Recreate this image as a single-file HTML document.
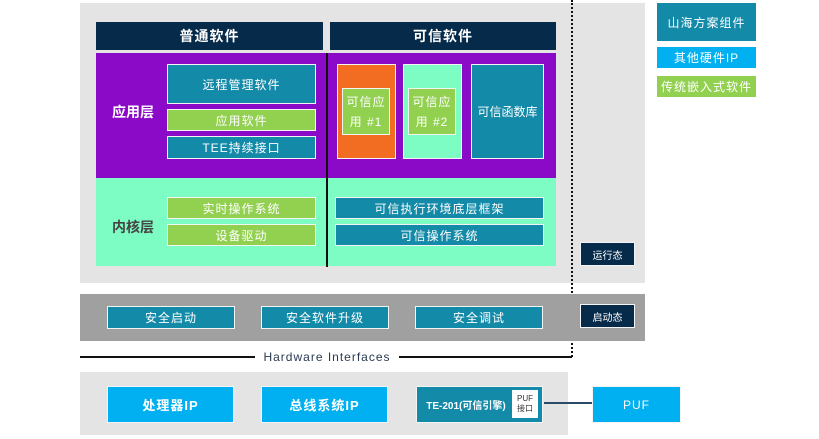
<!DOCTYPE html>
<html><head><meta charset="utf-8"><style>
*{margin:0;padding:0;box-sizing:border-box}
body{width:819px;height:439px;background:#fff;position:relative;overflow:hidden;font-family:"Liberation Sans","Noto Sans CJK SC",sans-serif;color:#fff}
div{position:absolute}
.c{display:flex;align-items:center;justify-content:center;text-align:center}
.b{border:1.5px solid #f4f4f4}
.t{background:#138aa8}
.g{background:#92d050}
.n{background:#062b4a}
.cy{background:#00b0f0}
.f12{font-size:12px;letter-spacing:1px}
</style></head><body>
<div style="left:80px;top:3px;width:565px;height:280px;background:#e4e4e4"></div>
<div class="c n" style="left:96px;top:22px;width:227px;height:28px;font-size:14px;font-weight:bold;letter-spacing:1px">普通软件</div>
<div class="c n" style="left:330px;top:22px;width:226px;height:28px;font-size:14px;font-weight:bold;letter-spacing:1px">可信软件</div>
<div style="left:96px;top:53px;width:460px;height:125px;background:#8a0ac8"></div>
<div style="left:96px;top:178px;width:460px;height:88px;background:#7dfcc4"></div>
<div style="left:326px;top:53px;width:2px;height:214px;background:#111"></div>
<div class="c" style="left:100px;top:100px;width:66px;height:24px;font-size:14px;font-weight:bold">应用层</div>
<div class="c" style="left:100px;top:215px;width:66px;height:24px;font-size:14px;font-weight:bold;color:#444">内核层</div>
<div class="c t b f12" style="left:167px;top:64px;width:149px;height:40px">远程管理软件</div>
<div class="c g b f12" style="left:167px;top:109px;width:149px;height:22px">应用软件</div>
<div class="c t b f12" style="left:167px;top:136px;width:149px;height:23px">TEE持续接口</div>
<div class="c g b f12" style="left:167px;top:197px;width:149px;height:22px">实时操作系统</div>
<div class="c g b f12" style="left:167px;top:224px;width:149px;height:22px">设备驱动</div>
<div class="b" style="left:337px;top:64px;width:59px;height:95px;background:#f26c22"></div>
<div class="c g b f12" style="left:342px;top:88px;width:48px;height:47px;line-height:20px">可信应<br>用 #1</div>
<div class="b" style="left:403px;top:64px;width:59px;height:95px;background:#7dfcc4"></div>
<div class="c g b f12" style="left:408px;top:88px;width:48px;height:47px;line-height:20px">可信应<br>用 #2</div>
<div class="c t b f12" style="left:471px;top:64px;width:73px;height:95px;letter-spacing:0">可信函数库</div>
<div class="c t b f12" style="left:335px;top:197px;width:209px;height:22px">可信执行环境底层框架</div>
<div class="c t b f12" style="left:335px;top:224px;width:209px;height:22px">可信操作系统</div>
<div style="left:571px;top:0;width:0;height:357px;border-left:2px dotted #111"></div>
<div class="c n b" style="left:580px;top:242px;width:55px;height:24px;font-size:10px">运行态</div>
<div style="left:80px;top:294px;width:565px;height:47px;background:#a0a0a0"></div>
<div class="c t b f12" style="left:107px;top:306px;width:128px;height:23px">安全启动</div>
<div class="c t b f12" style="left:261px;top:306px;width:128px;height:23px">安全软件升级</div>
<div class="c t b f12" style="left:415px;top:306px;width:128px;height:23px">安全调试</div>
<div class="c n b" style="left:580px;top:304px;width:55px;height:24px;font-size:10px">启动态</div>
<div style="left:80px;top:356px;width:492px;height:2px;background:#111"></div>
<div class="c" style="left:255px;top:349px;width:144px;height:16px;background:#fff;color:#2a3a50;font-size:12px;letter-spacing:1px">Hardware Interfaces</div>
<div style="left:80px;top:372px;width:488px;height:63px;background:#e4e4e4"></div>
<div class="c cy b" style="left:107px;top:386px;width:127px;height:37px;font-size:13px;font-weight:bold;letter-spacing:1px">处理器IP</div>
<div class="c cy b" style="left:261px;top:386px;width:127px;height:37px;font-size:13px;font-weight:bold;letter-spacing:1px">总线系统IP</div>
<div class="t b" style="left:416px;top:386px;width:127px;height:37px"></div>
<div class="c" style="left:420px;top:386px;width:92px;height:37px;font-size:10px;font-weight:bold">TE-201(可信引擎)</div>
<div class="c" style="left:512px;top:390px;width:26px;height:28px;background:#fff;color:#333;font-size:8px;line-height:10px">PUF<br>接口</div>
<div style="left:544px;top:402px;width:48px;height:1.5px;background:#2a4a66"></div>
<div class="c cy b" style="left:592px;top:386px;width:89px;height:37px;font-size:12px;letter-spacing:1px">PUF</div>
<div class="c t" style="left:657px;top:3px;width:99px;height:38px;font-size:12px;letter-spacing:1px">山海方案组件</div>
<div class="c cy" style="left:657px;top:47px;width:99px;height:21px;font-size:12px;letter-spacing:1px">其他硬件IP</div>
<div class="c g" style="left:657px;top:76px;width:99px;height:21px;font-size:12px;letter-spacing:1px">传统嵌入式软件</div>
</body></html>
